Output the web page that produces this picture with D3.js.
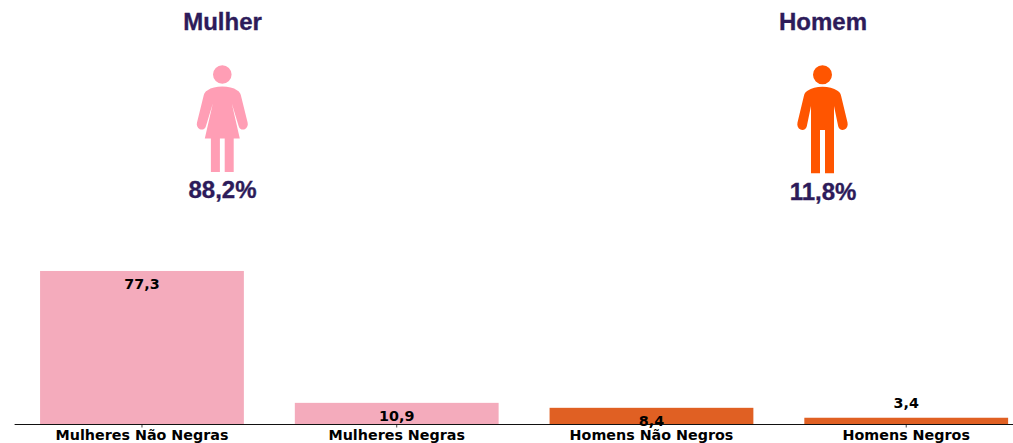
<!DOCTYPE html>
<html>
<head>
<meta charset="utf-8">
<script src="https://cdn.jsdelivr.net/npm/d3@7"></script>
<style>
  html, body { margin: 0; padding: 0; background: #fff; }
  svg { display: block; }
  .bar-label, .axis text { font-family: "DejaVu Sans", sans-serif; font-weight: bold; font-size: 14.3px; fill: #000; }
  .head-text { font-family: "Liberation Sans", Arial, sans-serif; font-weight: bold; font-size: 24px; fill: #2d1b5a; stroke: #2d1b5a; stroke-width: 0.35px; text-anchor: middle; }
</style>
</head>
<body>
<svg width="1013" height="443"></svg>
<script>
const categories = ['Mulheres Não Negras', 'Mulheres Negras', 'Homens Não Negros', 'Homens Negros'];
const values = [77.3, 10.9, 8.4, 3.4];
const valueLabels = ['77,3', '10,9', '8,4', '3,4'];
const genders = ['Mulher', 'Homem'];
const genderShares = ['88,2%', '11,8%'];

const barColors = ['#f4abbc', '#f4abbc', '#e06023', '#e06023'];
const iconColors = ['#ff9eb5', '#ff5500'];

// pictograms, drawn around x = 0 (head centre) in px
const womanPath = 'M-9.3,74.5a9.3,9.3 0 1,0 18.6,0a9.3,9.3 0 1,0 -18.6,0Z' +
    'M0,86.5C6,86.5 11,87.5 15,90.5C17,91.5 17.8,93 18.5,95L25.3,122.5C26,125 25,128 22.5,129.2C19.8,130.3 17.2,129 16.4,126.2L9.5,103.5L17.5,138.5L11.4,138.5L11.4,172L2.4,172L2.4,138.5L-2.4,138.5L-2.4,172L-11.4,172L-11.4,138.5L-17.5,138.5L-9.5,103.5L-16.4,126.2C-17.2,129 -19.8,130.3 -22.5,129.2C-25,128 -26,125 -25.3,122.5L-18.5,95C-17.8,93 -17,91.5 -15,90.5C-11,87.5 -6,86.5 0,86.5Z';
const manPath = 'M-9.5,74.7a9.5,9.5 0 1,0 19,0a9.5,9.5 0 1,0 -19,0Z' +
    'M0,86.8C6,86.8 11,88 15,90.8C17,91.8 18,93.5 18.5,95.5L25,122.5C25.7,125.5 24.5,128.5 22,129.6C19,130.6 16.3,129 15.7,126.2L11.5,106L11.5,173.3L2.5,173.3L2.5,130L-2.5,130L-2.5,173.3L-11.5,173.3L-11.5,106L-15.7,126.2C-16.3,129 -19,130.6 -22,129.6C-24.5,128.5 -25.7,125.5 -25,122.5L-18.5,95.5C-18,93.5 -17,91.8 -15,90.8C-11,88 -6,86.8 0,86.8Z';

const svg = d3.select('svg');

const xScale = d3.scaleBand()
    .domain(categories)
    .range([14.6, 1033.6])
    .paddingInner(0.2)
    .paddingOuter(0.1);

const yScale = d3.scaleLinear()
    .domain([0, 80])
    .range([424.5, 265.6]);

// Bars
svg.selectAll('.bar')
    .data(values)
    .enter()
    .append('rect')
    .attr('class', 'bar')
    .attr('x', (d, i) => xScale(categories[i]))
    .attr('y', d => yScale(d))
    .attr('width', xScale.bandwidth())
    .attr('height', d => yScale(0) - yScale(d))
    .attr('fill', (d, i) => barColors[i]);

// Bottom axis
const axis = svg.append('g')
    .attr('class', 'axis')
    .attr('transform', `translate(0, ${yScale(0)})`)
    .call(d3.axisBottom(xScale).offset(0).tickSize(3).tickPadding(2.5).tickSizeOuter(0));
axis.select('.domain').attr('stroke', '#111').attr('stroke-width', 1);
axis.selectAll('.tick line').attr('stroke', '#111').attr('stroke-width', 0.8);

// Value labels: inside the bar, above it when the bar is too short
svg.selectAll('.bar-label')
    .data(values)
    .enter()
    .append('text')
    .attr('class', 'bar-label')
    .attr('text-anchor', 'middle')
    .attr('x', (d, i) => xScale(categories[i]) + xScale.bandwidth() / 2)
    .attr('y', d => yScale(d) + (d > 5 ? 18 : -10))
    .text((d, i) => valueLabels[i]);

// Gender pictograms with title and share
const centers = [222.5, 823];
const iconCenters = [222.3, 822.5];
const shareY = [198, 200];
genders.forEach((g, i) => {
    svg.append('text').attr('class', 'head-text')
        .attr('x', centers[i]).attr('y', 30).text(g);
    svg.append('path')
        .attr('transform', `translate(${iconCenters[i]}, 0)`)
        .attr('fill', iconColors[i])
        .attr('d', i === 0 ? womanPath : manPath);
    svg.append('text').attr('class', 'head-text')
        .attr('x', centers[i]).attr('y', shareY[i]).text(genderShares[i]);
});
</script>
</body>
</html>
